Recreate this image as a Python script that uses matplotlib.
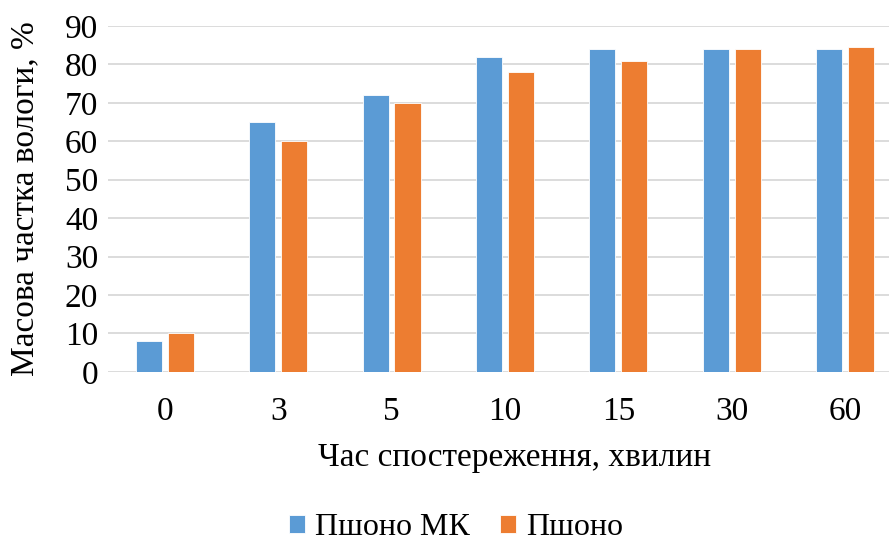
import numpy as np
import matplotlib.pyplot as plt

plt.rcParams['font.family'] = ['Liberation Serif', 'DejaVu Serif']

# Moisture content over observation time
minutes = ['0', '3', '5', '10', '15', '30', '60']
millet_mk = [8, 65, 72, 82, 84, 84, 84]
millet = [10, 60, 70, 78, 81, 84, 84.5]

blue = '#5B9BD5'
orange = '#ED7D31'

fig = plt.figure(figsize=(8.89, 5.42), dpi=100)
ax = fig.add_axes([0.1215, 0.314, 0.893, 0.638])

x = np.arange(len(minutes))
w = 0.23
ax.bar(x - 0.141, millet_mk, w, color=blue, edgecolor='white', linewidth=0.6,
       label='Пшоно МК', zorder=3)
ax.bar(x + 0.141, millet, w, color=orange, edgecolor='white', linewidth=0.6,
       label='Пшоно', zorder=3)

ax.set_ylim(0, 90)
ax.set_yticks(range(0, 91, 10))
ax.set_xlim(-0.5, len(minutes) - 0.5)
ax.set_xticks(x)
ax.set_xticklabels(minutes)
ax.yaxis.grid(True, color='#D9D9D9', linewidth=1.3, zorder=0)
for s in ax.spines.values():
    s.set_visible(False)
ax.tick_params(length=0, labelsize=24, colors='black')
ax.tick_params(axis='x', pad=18)
ax.tick_params(axis='y', pad=7)

ax.set_xlabel('Час спостереження, хвилин', fontsize=24, labelpad=14)
ax.xaxis.set_label_coords(0.5115, -0.205)
ax.set_ylabel('Масова частка вологи, %', fontsize=24, labelpad=18)

fig.legend(loc='center', bbox_to_anchor=(0.513, 0.026), ncol=2,
           frameon=False, fontsize=23, handlelength=0.5, handleheight=0.5,
           handletextpad=0.3, columnspacing=0.95, borderpad=0)

fig.savefig('out.png', dpi=100)
